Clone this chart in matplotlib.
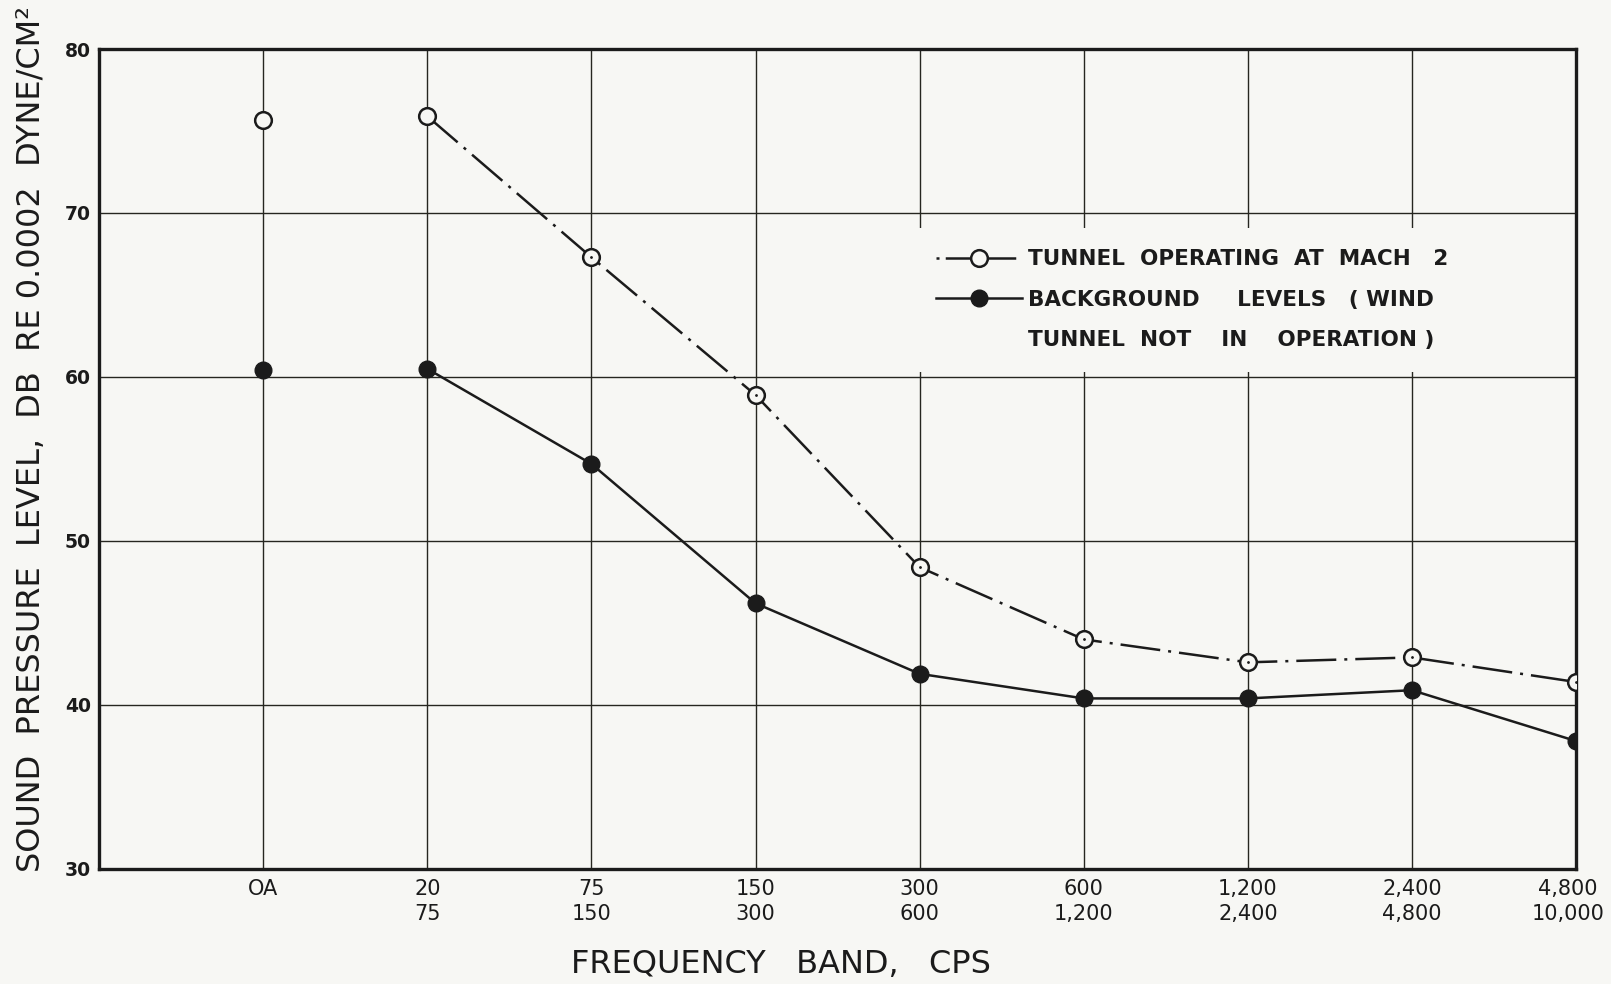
import matplotlib.pyplot as plt
import matplotlib.transforms as mtransforms
from matplotlib.lines import Line2D

# Frequency bands (upper / lower band edges, cps) and sound pressure levels, dB
bands = ['OA', '20\n75', '75\n150', '150\n300', '300\n600',
         '600\n1,200', '1,200\n2,400', '2,400\n4,800', '4,800\n10,000']
tunnel_mach2 = [75.7, 75.9, 67.3, 58.9, 48.4, 44.0, 42.6, 42.9, 41.4]
background = [60.4, 60.5, 54.7, 46.2, 41.9, 40.4, 40.4, 40.9, 37.8]
y_ticks = [30, 40, 50, 60, 70, 80]

paper = '#f7f7f4'
ink = '#1b1b1b'
dashdot = (16, 3.2, 1.2, 3.2)

plt.rcParams['font.family'] = ['DejaVu Sans']

fig = plt.figure(figsize=(16.11, 9.84), dpi=100, facecolor=paper)
ax = fig.add_axes([0.0615, 0.1169, 0.9168, 0.8333], facecolor=paper)

x = list(range(1, len(bands) + 1))

# overall level is plotted on its own, the bands are joined
ax.plot(x[:1], tunnel_mach2[:1], 'o', ms=12, mfc=paper, mec=ink, mew=1.8, zorder=3)
ax.plot(x[:1], background[:1], 'o', ms=12, mfc=ink, mec=ink, zorder=3)
ax.plot(x[1:], tunnel_mach2[1:], color=ink, lw=1.8, dashes=dashdot,
        marker='o', ms=12, mfc=paper, mec=ink, mew=1.8, zorder=3)
ax.plot(x[2:], tunnel_mach2[2:], '.', ms=2, color=ink, zorder=4)
ax.plot(x[1:], background[1:], color=ink, lw=1.8,
        marker='o', ms=12, mfc=ink, mec=ink, zorder=3)

ax.set_xlim(0, 9)
ax.set_ylim(30, 80)
ax.set_xticks(x)
ax.set_xticklabels(bands, fontsize=15, linespacing=1.35)
ax.set_yticks(y_ticks)
ax.set_yticklabels([str(v) for v in y_ticks], fontsize=13.5, fontweight='bold')
ax.tick_params(axis='both', length=0, colors=ink)
ax.tick_params(axis='x', pad=7)
ax.tick_params(axis='y', pad=6)

# keep the last band label inside the figure
last = ax.get_xticklabels()[-1]
last.set_transform(last.get_transform() +
                   mtransforms.ScaledTranslation(-8 / 100, 0, fig.dpi_scale_trans))

ax.set_axisbelow(True)
ax.grid(True, color='#262620', lw=1.0)
for s in ax.spines.values():
    s.set_linewidth(2.4)
    s.set_color(ink)

fig.text(0.4848, 0.0203, 'FREQUENCY   BAND,   CPS', fontsize=23, color=ink,
         ha='center', va='center')
fig.text(0.0195, 0.554, 'SOUND  PRESSURE  LEVEL,  DB  RE 0.0002  DYNE/CM²',
         fontsize=23, color=ink, rotation=90, ha='center', va='center')

h_tunnel = Line2D([], [], color=ink, lw=1.8, dashes=(1.2, 2.5, 11, 2.5),
                  marker='o', ms=12, mfc=paper, mec=ink, mew=1.8)
h_back = Line2D([], [], color=ink, lw=1.8, marker='o', ms=12, mfc=ink, mec=ink)
h_blank = Line2D([], [], linestyle='none')
leg = ax.legend([h_tunnel, h_back, h_blank],
                ['TUNNEL  OPERATING  AT  MACH   2',
                 'BACKGROUND     LEVELS   ( WIND',
                 'TUNNEL  NOT    IN    OPERATION )'],
                loc='upper left', bbox_to_anchor=(0.552, 0.782),
                borderaxespad=0, borderpad=1.0, handlelength=4.0,
                handletextpad=0.3, labelspacing=0.95, numpoints=1,
                prop={'size': 15.5, 'weight': 'bold'},
                frameon=True, facecolor=paper, edgecolor='none', framealpha=1,
                fancybox=False)
for t in leg.get_texts():
    t.set_color(ink)

fig.savefig('out.png', dpi=100, facecolor=paper)
